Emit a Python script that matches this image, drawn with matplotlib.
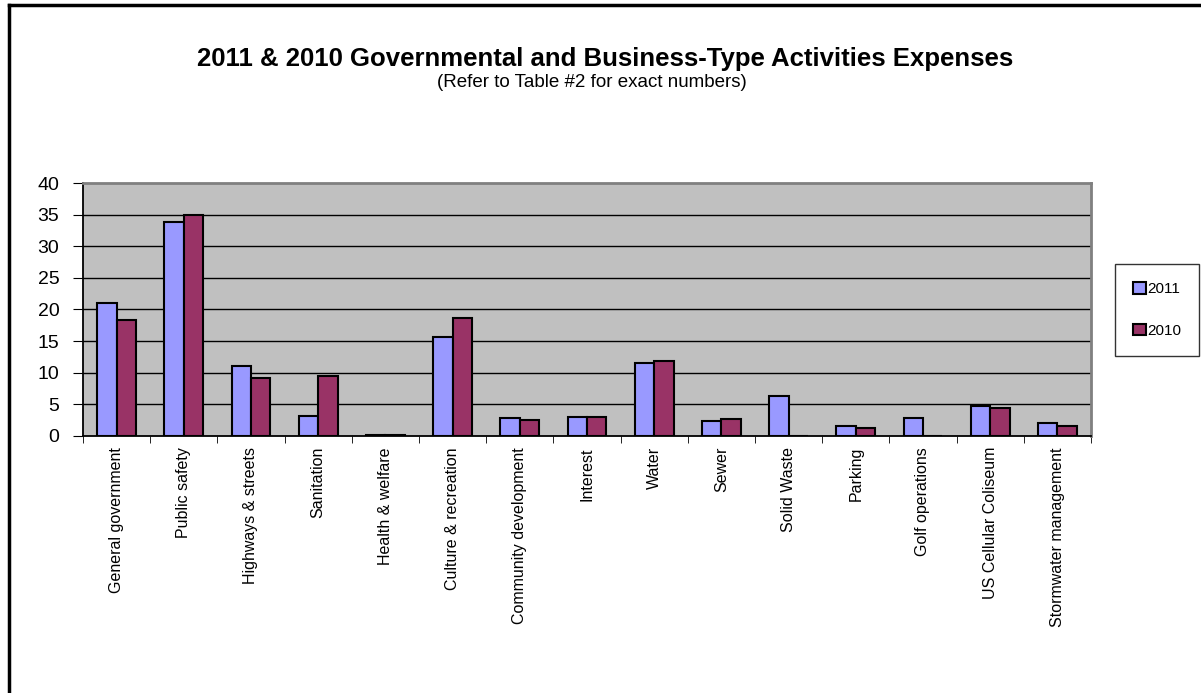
import numpy as np
import matplotlib
matplotlib.use("Agg")
import matplotlib.pyplot as plt
from matplotlib.lines import Line2D

# Expenses by activity (millions)
categories = ["General government", "Public safety", "Highways & streets", "Sanitation",
              "Health & welfare", "Culture & recreation", "Community development", "Interest",
              "Water", "Sewer", "Solid Waste", "Parking", "Golf operations",
              "US Cellular Coliseum", "Stormwater management"]
values_2011 = [21.1, 33.8, 11.0, 3.2, 0.2, 15.6, 2.9, 3.0, 11.5, 2.4, 6.3, 1.5, 2.9, 4.7, 2.0]
values_2010 = [18.3, 34.9, 9.1, 9.5, 0.2, 18.7, 2.5, 3.0, 11.8, 2.7, 0.0, 1.3, 0.0, 4.4, 1.5]
y_ticks = [0, 5, 10, 15, 20, 25, 30, 35, 40]

plt.rcParams['font.family'] = ['Liberation Sans', 'DejaVu Sans']

fig = plt.figure(figsize=(12.01, 6.93), dpi=100)
ax = fig.add_axes([0.0691, 0.3709, 0.8393, 0.3650])
ax.set_facecolor('#C0C0C0')

x = np.arange(len(categories))
w = 0.29
ax.bar(x - w / 2, values_2011, w, color='#9999FF', edgecolor='black', linewidth=1.5,
       label='2011', zorder=3)
ax.bar(x + w / 2, values_2010, w, color='#993366', edgecolor='black', linewidth=1.5,
       label='2010', zorder=3)

ax.set_xlim(-0.5, len(categories) - 0.5)
ax.set_ylim(0, 40)
ax.set_yticks(y_ticks)
ax.set_yticklabels([str(t) for t in y_ticks], fontsize=14)
for t in y_ticks[1:-1]:
    ax.axhline(t, color='black', linewidth=1, zorder=1)

# category labels sit in the middle, tick marks between categories
ax.set_xticks(x)
ax.set_xticklabels(categories, rotation=90, fontsize=11.5, va='top')
ax.tick_params(axis='x', length=0, pad=8)
ax.set_xticks(np.arange(-0.5, len(categories)), minor=True)
ax.tick_params(axis='x', which='minor', length=5, direction='out', color='black')
ax.tick_params(axis='y', length=7, direction='out', color='black', pad=10)

ax.spines['left'].set_color('black')
ax.spines['bottom'].set_color('black')
ax.spines['left'].set_linewidth(1.3)
ax.spines['bottom'].set_linewidth(1.3)
ax.spines['top'].set_color('#808080')
ax.spines['right'].set_color('#808080')
ax.spines['top'].set_linewidth(2)
ax.spines['right'].set_linewidth(2)

fig.text(0.504, 0.915, "2011 & 2010 Governmental and Business-Type Activities Expenses",
         ha='center', va='center', fontsize=18.5, fontweight='bold')
fig.text(0.493, 0.881, "(Refer to Table #2 for exact numbers)",
         ha='center', va='center', fontsize=13.5)

leg = fig.legend(loc='center left', bbox_to_anchor=(0.9284, 0.5528), fontsize=11,
                 frameon=True, fancybox=False, edgecolor='black', handlelength=0.8,
                 handleheight=0.8, handletextpad=0.1, labelspacing=1.8, borderpad=1.2,
                 borderaxespad=0)
leg.get_frame().set_linewidth(1)

# outer frame (only top and left visible in the original)
fig.add_artist(Line2D([0.0075, 0.0075], [0.0, 0.9935], color='black', linewidth=2.5,
                      transform=fig.transFigure))
fig.add_artist(Line2D([0.0075, 1.0], [0.9935, 0.9935], color='black', linewidth=2.5,
                      transform=fig.transFigure))

fig.savefig("out.png", dpi=100)
